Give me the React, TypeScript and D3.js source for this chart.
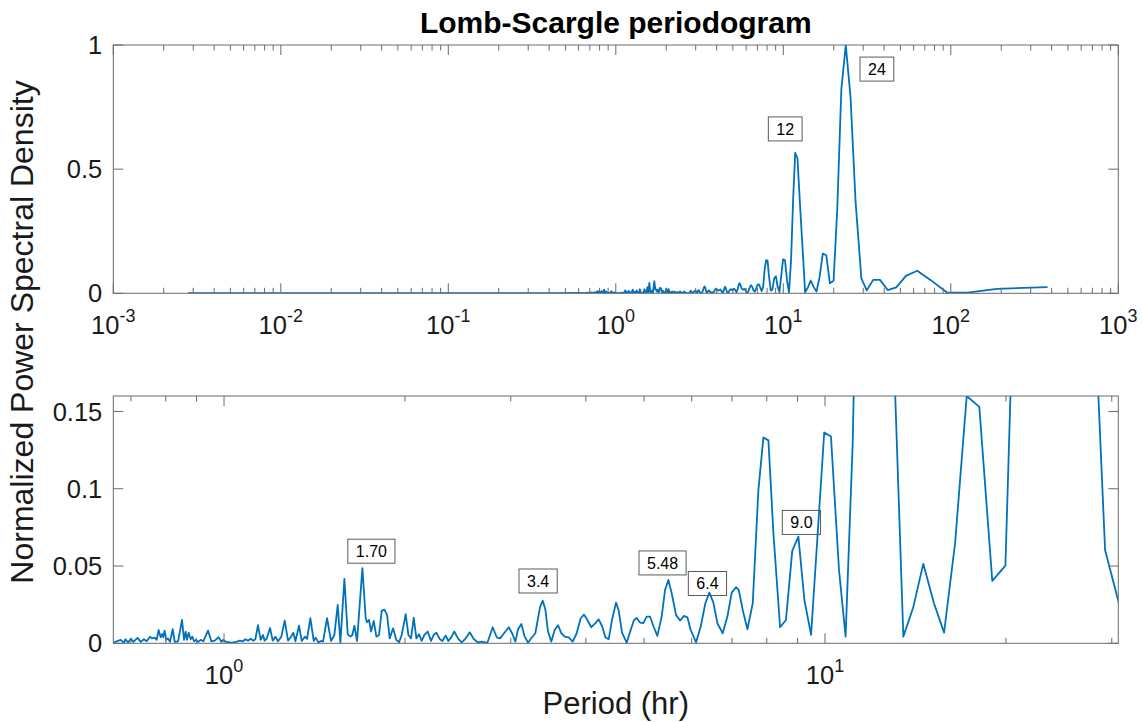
import React from "react";
import * as d3 from "d3";

// Lomb-Scargle periodogram: period (hours) and normalized power
const periodHr = [
  0.00279, 0.02, 0.2, 0.45, 0.6,
  0.6535, 0.6731, 0.6819, 0.6854, 0.6925, 0.6996, 0.7068, 0.7177, 0.727, 0.7358,
  0.7434, 0.753, 0.7588, 0.7666, 0.7725, 0.7785, 0.7845, 0.7895, 0.7925, 0.7966,
  0.8017, 0.8069, 0.8131, 0.8215, 0.8278, 0.8385, 0.8514, 0.8579, 0.8633, 0.8678,
  0.8733, 0.88, 0.8856, 0.8914, 0.8982, 0.9052, 0.9146, 0.9239, 0.9406, 0.9526,
  0.9649, 0.9798, 0.9898, 0.9962, 1.009, 1.0285, 1.0484, 1.0619, 1.0755, 1.0851,
  1.0962, 1.1075, 1.1189, 1.1275, 1.139, 1.1507, 1.161, 1.1685, 1.1775, 1.1928,
  1.205, 1.2174, 1.2299, 1.2457, 1.2618, 1.278, 1.2911, 1.3043, 1.3144, 1.333,
  1.3467, 1.3641, 1.3745, 1.3922, 1.4101, 1.4209, 1.4355, 1.4502, 1.4614, 1.484,
  1.5069, 1.5263, 1.5459, 1.5618, 1.5859, 1.6063, 1.6228, 1.6353, 1.6479, 1.6648,
  1.6991, 1.721, 1.7298, 1.7431, 1.7565, 1.7745, 1.7927, 1.8111, 1.8297, 1.8485,
  1.8675, 1.8867, 1.9109, 1.9354, 1.9553, 1.9754, 2.0059, 2.0265, 2.0473, 2.0684,
  2.0896, 2.1111, 2.1328, 2.1544, 2.1822, 2.2103, 2.233, 2.2559, 2.2849, 2.3084,
  2.3381, 2.3621, 2.3864, 2.417, 2.4544, 2.486, 2.5244, 2.5634, 2.6031, 2.6433,
  2.6841, 2.7186, 2.743, 2.7997, 2.8429, 2.8794, 2.9239, 2.9767, 3.0149, 3.0536,
  3.085, 3.1247, 3.1643, 3.2047, 3.2542, 3.296, 3.3556, 3.3901, 3.4249, 3.4601,
  3.5045, 3.5496, 3.5952, 3.6414, 3.6882, 3.7451, 3.803, 3.8617, 3.9214, 3.9719,
  4.0229, 4.085, 4.1481, 4.2015, 4.2555, 4.3101, 4.3655, 4.4216, 4.49, 4.5362,
  4.5944, 4.6774, 4.7497, 4.8107, 4.8601, 4.9225, 4.9858, 5.0499, 5.1147, 5.1804,
  5.2605, 5.3487, 5.4177, 5.4872, 5.5577, 5.6508, 5.7382, 5.8268, 5.9015, 5.9774,
  6.1009, 6.2109, 6.3229, 6.4207, 6.52, 6.6207, 6.7575, 6.8793, 6.9947, 7.1118,
  7.185, 7.296, 7.4276, 7.5812, 7.7475, 7.8974, 8.0501, 8.2058, 8.4186, 8.61,
  8.82, 9.03, 9.24, 9.48, 9.97, 10.23, 10.55, 10.82, 11.12, 11.45,
  11.78, 12.15, 12.6, 13.5, 14.03, 14.57, 15.18, 15.78, 16.46, 17.21,
  18.06, 18.98, 19.96, 21.0, 22.2, 23.6, 25.2, 27.0, 29.24, 31.5,
  34.4, 37.8, 42.0, 47.25, 54.0, 63.0, 75.6, 94.5, 126, 189,
  378,
];

const power = [
  0.0002, 0.0002, 0.0003, 0.0006, 0.0012,
  0.0004, 0.0022, 0.0004, 0.0026, 0.0004, 0.003, 0.0009, 0.0035, 0.0009, 0.0026,
  0.0013, 0.0043, 0.0032, 0.0037, 0.0022, 0.0086, 0.0039, 0.006, 0.0039, 0.0082,
  0.0022, 0.0032, 0.0009, 0.0091, 0.0009, 0.0013, 0.0151, 0.0022, 0.0076, 0.0022,
  0.0069, 0.0026, 0.0043, 0.0013, 0.0022, 0.0009, 0.0022, 0.0013, 0.0082, 0.0013,
  0.0017, 0.0039, 0.0009, 0.0022, 0.0009, 0.0004, 0.0009, 0.0017, 0.0013, 0.0026,
  0.0017, 0.003, 0.0017, 0.0026, 0.0117, 0.0022, 0.0054, 0.0017, 0.003, 0.0099,
  0.0017, 0.0043, 0.0013, 0.0043, 0.0147, 0.0017, 0.0039, 0.0069, 0.0013, 0.0114,
  0.0015, 0.0043, 0.0028, 0.0162, 0.0015, 0.0037, 0.0006, 0.0015, 0.0011, 0.0162,
  0.0015, 0.0054, 0.0248, 0.0006, 0.0417, 0.0058, 0.0043, 0.0054, 0.0114, 0.0015,
  0.0486, 0.0162, 0.0136, 0.0151, 0.0076, 0.0145, 0.0043, 0.0054, 0.021, 0.0218,
  0.0184, 0.0032, 0.0097, 0.0022, 0.0006, 0.0054, 0.0188, 0.0054, 0.0032, 0.0166,
  0.0032, 0.0058, 0.0015, 0.0054, 0.0076, 0.0015, 0.0054, 0.0069, 0.0028, 0.0015,
  0.005, 0.0015, 0.0037, 0.0076, 0.0028, 0.0006, 0.0032, 0.0071, 0.0028, 0.0006,
  0.0011, 0.0006, 0.0004, 0.0104, 0.0039, 0.0032, 0.0065, 0.0104, 0.0065, 0.0011,
  0.0091, 0.0125, 0.0043, 0.0004, 0.0039, 0.0065, 0.0233, 0.0276, 0.022, 0.0076,
  0.0011, 0.0086, 0.0117, 0.0065, 0.0043, 0.0039, 0.0011, 0.0065, 0.0162, 0.0186,
  0.0151, 0.0104, 0.013, 0.0155, 0.0112, 0.0039, 0.0026, 0.0151, 0.0263, 0.0212,
  0.0069, 0.0004, 0.0086, 0.0151, 0.0164, 0.0134, 0.013, 0.0173, 0.0173, 0.0112,
  0.0048, 0.0173, 0.0345, 0.041, 0.0324, 0.0184, 0.0147, 0.0177, 0.0168, 0.0086,
  0.0006, 0.0108, 0.0259, 0.0328, 0.0263, 0.013, 0.0065, 0.0173, 0.0328, 0.0363,
  0.0345, 0.0216, 0.0091, 0.0259, 0.0993, 0.1332, 0.1313, 0.0713, 0.0104, 0.0151,
  0.0598, 0.069, 0.028, 0.0054, 0.1364, 0.1338, 0.0475, 0.0043, 0.13, 0.38,
  0.566, 0.544, 0.35, 0.0043, 0.0237, 0.0514, 0.0259, 0.0069, 0.0648, 0.16,
  0.153, 0.0404, 0.0503, 0.34, 0.82, 1.0, 0.79, 0.37, 0.0604, 0.012,
  0.054, 0.054, 0.013, 0.024, 0.07, 0.091, 0.054, 0.004, 0.003, 0.018,
  0.025,
];

// Peak annotations: text, and the data point at the left/middle of each box
const topLabelText = ["12", "24"];
const topLabelPeriod = [8.14, 28.7];
const topLabelValue = [0.662, 0.903];

const bottomLabelText = ["1.70", "3.4", "5.48", "6.4", "9.0"];
const bottomLabelPeriod = [1.607, 3.096, 4.903, 5.923, 8.49];
const bottomLabelValue = [0.0596, 0.0403, 0.052, 0.0387, 0.0782];

const topXDomain = [0.001, 1000];
const topYDomain = [0, 1];
const topYTicks = [0, 0.5, 1];

const bottomXDomain = [0.6543, 30.76];
const bottomYDomain = [0, 0.16];
const bottomYTicks = [0, 0.05, 0.1, 0.15];

const W = 1143;
const H = 722;
const LEFT = 113.3;
const RIGHT = 1118.3;
const FONT = "'Liberation Sans', Arial, Helvetica, sans-serif";
const LINE_COLOR = "#0072BD";
const AXIS_COLOR = "#6a6a6a";
const TEXT_COLOR = "#1a1a1a";
const TICK_FS = 25.5;
const EXP_FS = 18;
const LABEL_FS = 31;

function textWidth(s: string, fs: number) {
  let w = 0;
  for (const c of s) w += c === "." ? 0.278 : 0.556;
  return w * fs;
}

function logTicks(lo: number, hi: number) {
  const major: number[] = [];
  const minor: number[] = [];
  for (let d = Math.floor(Math.log10(lo)); d <= Math.ceil(Math.log10(hi)); d++) {
    for (let k = 1; k <= 9; k++) {
      const v = k * Math.pow(10, d);
      if (v < lo * 0.9999 || v > hi * 1.0001) continue;
      (k === 1 ? major : minor).push(v);
    }
  }
  return { major, minor };
}

type PanelProps = {
  id: string;
  yTop: number;
  yBottom: number;
  xDomain: number[];
  yDomain: number[];
  yTicks: number[];
  labelText: string[];
  labelPeriod: number[];
  labelValue: number[];
};

function Panel(p: PanelProps) {
  const x = d3.scaleLog().domain(p.xDomain).range([LEFT, RIGHT]);
  const y = d3.scaleLinear().domain(p.yDomain).range([p.yBottom, p.yTop]);
  const idx = periodHr.map((_, i) => i);
  const path = d3
    .line<number>()
    .x((i) => x(periodHr[i]))
    .y((i) => y(power[i]))(idx) as string;
  const { major, minor } = logTicks(p.xDomain[0], p.xDomain[1]);
  const majorLen = 10;
  const minorLen = 5.5;

  return (
    <g>
      <defs>
        <clipPath id={p.id}>
          <rect x={LEFT} y={p.yTop} width={RIGHT - LEFT} height={p.yBottom - p.yTop} />
        </clipPath>
      </defs>
      <rect x={LEFT} y={p.yTop} width={RIGHT - LEFT} height={p.yBottom - p.yTop} fill="#fff" />
      <path
        d={path}
        fill="none"
        stroke={LINE_COLOR}
        strokeWidth={1.8}
        strokeLinejoin="round"
        clipPath={`url(#${p.id})`}
      />
      {/* x ticks on bottom and top edges */}
      {major.map((v) => (
        <g key={`M${v}`}>
          <line x1={x(v)} x2={x(v)} y1={p.yBottom} y2={p.yBottom - majorLen} stroke={AXIS_COLOR} />
          <line x1={x(v)} x2={x(v)} y1={p.yTop} y2={p.yTop + majorLen} stroke={AXIS_COLOR} />
          <text
            x={x(v)}
            y={p.yBottom + 41}
            textAnchor="middle"
            fontFamily={FONT}
            fontSize={TICK_FS}
            fill={TEXT_COLOR}
          >
            <tspan>10</tspan>
            <tspan dy={-12} fontSize={EXP_FS}>
              {String(Math.round(Math.log10(v)))}
            </tspan>
          </text>
        </g>
      ))}
      {minor.map((v) => (
        <g key={`m${v}`}>
          <line x1={x(v)} x2={x(v)} y1={p.yBottom} y2={p.yBottom - minorLen} stroke={AXIS_COLOR} />
          <line x1={x(v)} x2={x(v)} y1={p.yTop} y2={p.yTop + minorLen} stroke={AXIS_COLOR} />
        </g>
      ))}
      {/* y ticks on left and right edges */}
      {p.yTicks.map((v) => (
        <g key={`y${v}`}>
          <line x1={LEFT} x2={LEFT + majorLen} y1={y(v)} y2={y(v)} stroke={AXIS_COLOR} />
          <line x1={RIGHT} x2={RIGHT - majorLen} y1={y(v)} y2={y(v)} stroke={AXIS_COLOR} />
          <text
            x={LEFT - 11}
            y={y(v)}
            dy="0.36em"
            textAnchor="end"
            fontFamily={FONT}
            fontSize={TICK_FS}
            fill={TEXT_COLOR}
          >
            {String(v)}
          </text>
        </g>
      ))}
      <rect
        x={LEFT}
        y={p.yTop}
        width={RIGHT - LEFT}
        height={p.yBottom - p.yTop}
        fill="none"
        stroke={AXIS_COLOR}
        strokeWidth={1}
      />
      {/* peak annotations */}
      {p.labelText.map((t, i) => {
        const fs = 16;
        const pad = 8;
        const bw = textWidth(t, fs) + 2 * pad;
        const bh = 24;
        const bx = x(p.labelPeriod[i]);
        const cy = y(p.labelValue[i]);
        return (
          <g key={`l${t}`}>
            <rect x={bx} y={cy - bh / 2} width={bw} height={bh} fill="none" stroke="#5a5a5a" strokeWidth={1} />
            <text
              x={bx + bw / 2}
              y={cy}
              dy="0.36em"
              textAnchor="middle"
              fontFamily={FONT}
              fontSize={fs}
              fill="#000"
            >
              {t}
            </text>
          </g>
        );
      })}
    </g>
  );
}

export default function App() {
  return (
    <svg
      width={W}
      height={H}
      viewBox={`0 0 ${W} ${H}`}
      style={{ position: "absolute", left: 0, top: 0, background: "#fff" }}
    >
      <rect width={W} height={H} fill="#fff" />
      <text
        x={(LEFT + RIGHT) / 2}
        y={33}
        textAnchor="middle"
        fontFamily={FONT}
        fontWeight="bold"
        fontSize={30}
        fill="#000"
      >
        Lomb-Scargle periodogram
      </text>
      <Panel
        id="clipTop"
        yTop={45}
        yBottom={293.3}
        xDomain={topXDomain}
        yDomain={topYDomain}
        yTicks={topYTicks}
        labelText={topLabelText}
        labelPeriod={topLabelPeriod}
        labelValue={topLabelValue}
      />
      <Panel
        id="clipBottom"
        yTop={396}
        yBottom={643.3}
        xDomain={bottomXDomain}
        yDomain={bottomYDomain}
        yTicks={bottomYTicks}
        labelText={bottomLabelText}
        labelPeriod={bottomLabelPeriod}
        labelValue={bottomLabelValue}
      />
      <text
        x={(LEFT + RIGHT) / 2}
        y={714}
        textAnchor="middle"
        fontFamily={FONT}
        fontSize={LABEL_FS}
        fill={TEXT_COLOR}
      >
        Period (hr)
      </text>
      <text
        transform="translate(33,332) rotate(-90)"
        textAnchor="middle"
        fontFamily={FONT}
        fontSize={LABEL_FS + 1}
        fill={TEXT_COLOR}
      >
        Normalized Power Spectral Density
      </text>
    </svg>
  );
}
